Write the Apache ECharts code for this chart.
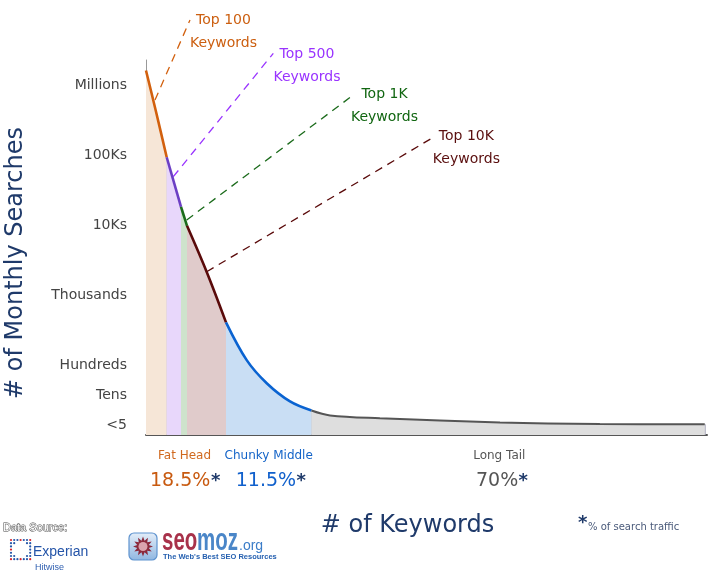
<!DOCTYPE html>
<html>
<head>
<meta charset="utf-8">
<script src="https://cdn.jsdelivr.net/npm/echarts@6/dist/echarts.min.js"></script>
<style>
  html, body { margin: 0; padding: 0; background: #fff; }
  #chart { width: 709px; height: 575px; }
</style>
</head>
<body>
<div id="chart"></div>
<script>
// ---- data (x: relative keyword rank position 0..100, y: decades above the "<5" floor) ----
const yTickValues = [0.14, 0.56, 1, 2, 3, 4, 5];
const yTickLabels = ['<5', 'Tens', 'Hundreds', 'Thousands', '10Ks', '100Ks', 'Millions'];

const segmentNames = ['Top 100', 'Top 500', 'Top 1K', 'Top 10K', 'Chunky Middle', 'Long Tail'];
const top100 = [[0, 5.21], [1.82, 4.61], [3.69, 3.97]];
const top500 = [[3.69, 3.97], [6.24, 3.26]];
const top1k = [[6.24, 3.26], [7.31, 2.99]];
const top10k = [[7.31, 2.99], [10.82, 2.33], [14.26, 1.61]];
const chunkyMiddle = [[14.26, 1.61], [17.95, 1.07], [21.52, 0.74], [25.67, 0.48], [29.5, 0.35]];
const longTail = [[29.5, 0.35], [32.8, 0.28], [41.7, 0.24], [63.1, 0.18], [80.9, 0.157], [99.6, 0.153]];

const groupLabels = ['Fat Head', 'Chunky Middle', 'Long Tail'];
const trafficShares = ['18.5%', '11.5%', '70%'];

// ---- styles ----
const segData = [top100, top500, top1k, top10k, chunkyMiddle, longTail];
const lineColors = ['#d2600e', '#6c3fc4', '#1b6b1b', '#5a0a0a', '#0a63d1', '#555555'];
const fillColors = ['#f6e6d7', '#e8d7fb', '#cee3cc', '#e0cbcb', '#c9def4', '#dedede'];
const smoothing = [0.3, 0, 0, 0.35, 0.35, 0.35];
const navy = '#1f3a6a';

const chart = echarts.init(document.getElementById('chart'));

const series = segData.map((d, i) => {
  const last = d[d.length - 1];
  return {
    name: segmentNames[i],
    type: 'line',
    data: d,
    smooth: smoothing[i],
    showSymbol: false,
    symbol: 'none',
    z: 3,
    lineStyle: { color: lineColors[i], width: i === 5 ? 2 : 2.6 },
    areaStyle: { color: fillColors[i], opacity: 1 },
    markLine: {
      silent: true,
      symbol: 'none',
      label: { show: false },
      lineStyle: { color: '#a8a8ba', width: 1.5, type: 'solid' },
      z: 2,
      data: [[{ coord: [last[0], 0] }, { coord: [last[0], last[1]] }]]
    }
  };
});

const fontMain = 'DejaVu Sans';

function txt(text, x, y, size, color, align, extra) {
  return Object.assign({
    type: 'text',
    style: {
      text: text, x: x, y: y,
      font: size + 'px "' + fontMain + '"',
      fill: color,
      textAlign: align || 'center', align: align || 'center',
      textVerticalAlign: 'middle', verticalAlign: 'middle',
      lineHeight: 23
    },
    silent: true
  }, extra || {});
}

function dash(x1, y1, x2, y2, color) {
  return {
    type: 'line',
    shape: { x1: x1, y1: y1, x2: x2, y2: y2 },
    style: { stroke: color, lineWidth: 1.3, lineDash: [8, 6] },
    silent: true
  };
}

// Experian dotted mark
const dots = [];
(function () {
  const ox = 11, oy = 540, s = 3.2;
  for (let r = 0; r < 7; r++) {
    for (let c = 0; c < 7; c++) {
      const edge = r === 0 || r === 6 || c === 0 || c === 6;
      const inner = (r === 1 || r === 5) && (c === 1 || c === 5);
      if (!edge && !inner) continue;
      const corner = (r === 0 || r === 6) && (c === 0 || c === 6);
      const red = corner || (r === 0 && c === 3) || (r === 6 && c === 3) || (c === 0 && r === 3);
      dots.push({
        type: 'circle',
        shape: { cx: ox + c * s, cy: oy + r * s, r: 1.1 },
        style: { fill: red ? '#d8232a' : '#2456a8' },
        silent: true
      });
    }
  }
})();

// seomoz sun emblem
const sunPts = [];
(function () {
  const cx = 143, cy = 546.5, n = 12;
  for (let k = 0; k < n * 2; k++) {
    const a = k * Math.PI / n - Math.PI / 2;
    const rr = k % 2 === 0 ? 10 : 6;
    sunPts.push([cx + rr * Math.cos(a), cy + rr * Math.sin(a)]);
  }
})();

const groupColors = ['#d0691f', '#1464c8', '#555555'];
const shareColors = ['#c85a10', '#1060cc', '#555555'];
const groupX = [184.5, 268.7, 499.3];
const shareX = [150, 235.7, 476];

function ltext(text, x, y, font, fill, extra) {
  return Object.assign({
    type: 'text', silent: true, x: x, y: y,
    style: { text: text, x: 0, y: 0, font: font, fill: fill, textAlign: 'left', align: 'left', textVerticalAlign: 'middle', verticalAlign: 'middle' }
  }, extra || {});
}

const graphics = [
  // annotation dashed leaders
  dash(155, 100, 190, 20, '#d2600e'),
  dash(173.3, 176.7, 273.3, 53.3, '#9933ff'),
  dash(186.7, 220, 353.3, 95, '#1b6b1b'),
  dash(206.7, 271.7, 431.7, 138.3, '#5a0a0a'),
  txt(segmentNames[0] + '\nKeywords', 223.5, 31.5, 14, '#cc5f10'),
  txt(segmentNames[1] + '\nKeywords', 307, 65.5, 14, '#9933ff'),
  txt(segmentNames[2] + '\nKeywords', 384.5, 106, 14, '#116611'),
  txt(segmentNames[3] + '\nKeywords', 466.4, 148.3, 14, '#5a0f0f'),
  // axis titles
  txt('# of Monthly Searches', 0, 0, 24, navy, 'center', { x: 16, y: 263, rotation: Math.PI / 2 }),
  txt('# of Keywords', 407.5, 526, 24, navy),
  // footnote
  ltext('*', 578, 523, 'bold 18px "DejaVu Sans"', navy),
  ltext('% of search traffic', 588, 527, '10px "DejaVu Sans"', '#4a5a7a'),
  // Data source
  {
    type: 'text', silent: true,
    style: { text: 'Data Source:', x: 3, y: 528, font: '11px "Liberation Sans"', fill: '#ffffff', stroke: '#444', lineWidth: 0.9, textAlign: 'left', align: 'left', textVerticalAlign: 'middle', verticalAlign: 'middle' }
  },
  ltext('Experian', 33, 552, '14px "Liberation Sans"', '#2454a8'),
  ltext('Hitwise', 35, 568, '9px "Liberation Sans"', '#2f5fb0'),
  // seomoz logo
  {
    type: 'rect', silent: true,
    shape: { x: 129, y: 533, width: 28, height: 27, r: 5 },
    style: {
      fill: new echarts.graphic.LinearGradient(0, 0, 0, 1, [{ offset: 0, color: '#e4eef9' }, { offset: 1, color: '#8fb6e0' }]),
      stroke: '#5f93cf', lineWidth: 1.2
    }
  },
  { type: 'polygon', silent: true, shape: { points: sunPts }, style: { fill: '#8c2a3c' } },
  { type: 'circle', silent: true, shape: { cx: 143, cy: 546.5, r: 4.5 }, style: { fill: '#d9a3ad' } },
  ltext('seo', 162, 541, 'bold 31px "Liberation Sans"', '#a8324a', { scaleX: 0.66 }),
  ltext('moz', 197, 541, 'bold 31px "Liberation Sans"', '#4a86c8', { scaleX: 0.66 }),
  ltext('.org', 239, 546, '14px "Liberation Sans"', '#3a7cc8'),
  ltext("The Web's Best SEO Resources", 163, 557, 'bold 7.5px "Liberation Sans"', '#2560b0')
].concat(dots);

groupLabels.forEach((g, i) => {
  graphics.push(txt(g, groupX[i], 456, 12, groupColors[i]));
  graphics.push(txt(trafficShares[i], shareX[i], 481, 19, shareColors[i], 'left'));
});
// asterisks after the shares
[211, 296.5, 518.5].forEach((x) => {
  graphics.push(ltext('*', x, 481, 'bold 18px "DejaVu Sans"', navy));
});

chart.setOption({
  animation: false,
  backgroundColor: '#ffffff',
  grid: { left: 146, right: 2, top: 60, bottom: 140, containLabel: false },
  xAxis: {
    type: 'value', min: 0, max: 100,
    axisLine: { show: true, lineStyle: { color: '#555', width: 2 } },
    axisTick: { show: false },
    axisLabel: { show: false },
    splitLine: { show: false }
  },
  yAxis: {
    type: 'value', min: 0, max: 5.36,
    axisLine: { show: true, lineStyle: { color: '#999', width: 1 } },
    axisTick: { show: false },
    splitLine: { show: false },
    axisLabel: {
      customValues: yTickValues,
      margin: 19,
      color: '#444',
      fontSize: 14,
      fontFamily: fontMain,
      formatter: (v) => {
        const idx = yTickValues.findIndex((t) => Math.abs(t - v) < 1e-6);
        return idx >= 0 ? yTickLabels[idx] : '';
      }
    }
  },
  series: series,
  graphic: { elements: graphics }
});
</script>
</body>
</html>
